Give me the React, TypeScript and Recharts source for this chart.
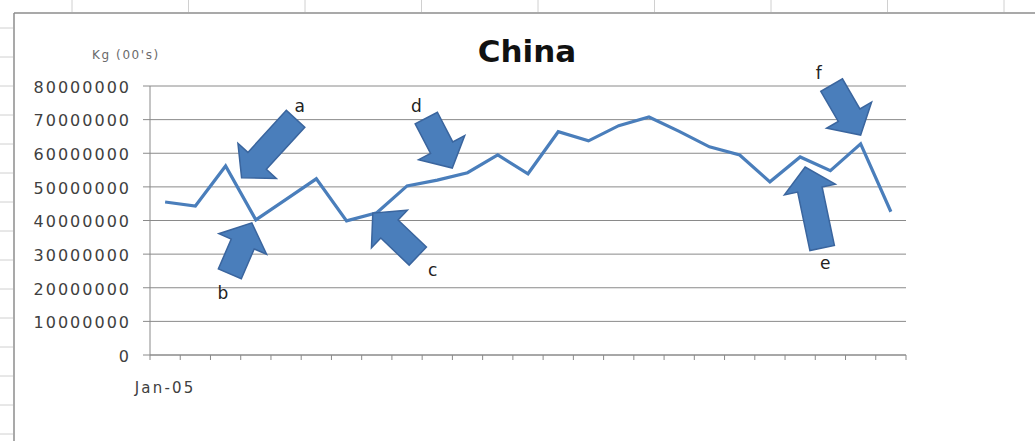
import React from "react";
import { LineChart, Line, XAxis, YAxis, CartesianGrid, ReferenceDot } from "recharts";

// monthly volume, Kg (00's)
const months = [
  "Jan-05", "Feb-05", "Mar-05", "Apr-05", "May-05", "Jun-05", "Jul-05", "Aug-05", "Sep-05", "Oct-05",
  "Nov-05", "Dec-05", "Jan-06", "Feb-06", "Mar-06", "Apr-06", "May-06", "Jun-06", "Jul-06", "Aug-06",
  "Sep-06", "Oct-06", "Nov-06", "Dec-06", "Jan-07",
];
const volume = [
  45500000, 44300000, 56200000, 40200000, 46300000, 52400000, 39900000, 42300000, 50300000, 52000000,
  54200000, 59500000, 53900000, 66400000, 63700000, 68200000, 70800000, 66500000, 61900000, 59500000,
  51500000, 58900000, 54800000, 62800000, 42600000,
];
const yTicks = [0, 10000000, 20000000, 30000000, 40000000, 50000000, 60000000, 70000000, 80000000];

// callouts: tip anchored on a month / value, tail given as a pixel vector from the tip
const callouts = [
  { label: "a", month: "Mar-05", value: 52700000, dx: 16, tail: [54, -59], text: [58, -72] },
  { label: "b", month: "Apr-05", value: 39300000, dx: -4, tail: [-22, 51], text: [-29, 70] },
  { label: "c", month: "Aug-05", value: 42200000, dx: -4, tail: [45, 43], text: [60, 57] },
  { label: "d", month: "Oct-05", value: 55600000, dx: 15, tail: [-26, -50], text: [-36, -62] },
  { label: "e", month: "Oct-06", value: 55900000, dx: 5, tail: [17, 81], text: [20, 96] },
  { label: "f", month: "Dec-06", value: 65400000, dx: 0, tail: [-29, -50], text: [-42, -62] },
];

const data = months.map((m, i) => ({ month: m, value: volume[i] }));

const BAND = 756 / months.length;
const AXIS = "#8a8a8a";
const BLUE = "#4A7EBB";

function MonthTick(props: any) {
  const { x, y, index, payload } = props;
  const h = BAND / 2;
  return (
    <g>
      <line x1={x - h} x2={x - h} y1={y} y2={y + 5} stroke={AXIS} />
      {index === months.length - 1 && <line x1={x + h} x2={x + h} y1={y} y2={y + 5} stroke={AXIS} />}
      {index === 0 && (
        <text x={x} y={y + 38} textAnchor="middle" fill="#404040"
          style={{ fontFamily: "DejaVu Sans", fontSize: 15, letterSpacing: 2.2 }}>
          {payload.value}
        </text>
      )}
    </g>
  );
}

function ValueTick(props: any) {
  const { x, y, payload } = props;
  return (
    <text x={x} y={y + 1} dy="0.36em" textAnchor="end" fill="#404040"
      style={{ fontFamily: "DejaVu Sans", fontSize: 16, letterSpacing: 2.0 }}>
      {String(payload.value)}
    </text>
  );
}

function arrowShape(c: (typeof callouts)[number]) {
  return (p: any) => {
    const tx = p.cx + c.dx;
    const ty = p.cy;
    const sx = tx + c.tail[0];
    const sy = ty + c.tail[1];
    const len = Math.hypot(tx - sx, ty - sy);
    const ux = (tx - sx) / len;
    const uy = (ty - sy) / len;
    const nx = -uy;
    const ny = ux;
    const sw = 12.5, hw = 26, hl = 23;
    const bx = tx - ux * hl;
    const by = ty - uy * hl;
    const pts = [
      [sx + nx * sw, sy + ny * sw],
      [bx + nx * sw, by + ny * sw],
      [bx + nx * hw, by + ny * hw],
      [tx, ty],
      [bx - nx * hw, by - ny * hw],
      [bx - nx * sw, by - ny * sw],
      [sx - nx * sw, sy - ny * sw],
    ];
    return (
      <g>
        <polygon points={pts.map((q) => q.join(",")).join(" ")} fill={BLUE} stroke="#3A659E" strokeWidth={1.5} />
        <text x={tx + c.text[0]} y={ty + c.text[1]} textAnchor="middle" dominantBaseline="central" fill="#222"
          style={{ fontFamily: "DejaVu Sans", fontSize: 17 }}>
          {c.label}
        </text>
      </g>
    );
  };
}

export default function App() {
  const rows = Array.from({ length: 15 }, (_, i) => 28 + i * 29);
  const cols = Array.from({ length: 9 }, (_, i) => 72 + i * 116.5);
  return (
    <div style={{ position: "absolute", left: 0, top: 0, width: 1035, height: 441, background: "#fff", overflow: "hidden" }}>
      <svg width={1035} height={441} style={{ position: "absolute", left: 0, top: 0 }}>
        {cols.map((x) => <line key={x} x1={x} x2={x} y1={0} y2={12} stroke="#d0d0d0" />)}
        {rows.map((y) => <line key={y} x1={0} x2={13} y1={y} y2={y} stroke="#d0d0d0" />)}
        <line x1={14} x2={14} y1={13} y2={441} stroke="#8c8c8c" strokeWidth={1.5} />
        <line x1={14} x2={1035} y1={13} y2={13} stroke="#8c8c8c" strokeWidth={1.5} />
      </svg>
      <div style={{ position: "absolute", left: 0, width: 1054, top: 36, textAlign: "center", fontFamily: "DejaVu Sans",
        fontWeight: "bold", fontSize: 31, lineHeight: "31px", color: "#111" }}>
        China
      </div>
      <div style={{ position: "absolute", left: 92, top: 49, fontFamily: "DejaVu Sans", fontSize: 12, lineHeight: "12px",
        letterSpacing: 1.6, color: "#6a6a6a", whiteSpace: "nowrap" }}>
        Kg (00's)
      </div>
      <div style={{ position: "absolute", left: 0, top: 0 }}>
        <LineChart width={1035} height={441} data={data} margin={{ top: 86, right: 129, bottom: 0, left: 0 }}>
          <CartesianGrid vertical={false} stroke={AXIS} strokeOpacity={1} />
          <XAxis dataKey="month" height={86} interval={0} padding={{ left: BAND / 2, right: BAND / 2 }}
            axisLine={{ stroke: AXIS }} tickLine={false} tickSize={0} tickMargin={0} tick={<MonthTick />} />
          <YAxis width={150} domain={[0, 80000000]} ticks={yTicks} interval={0} axisLine={{ stroke: AXIS }}
            tickLine={{ stroke: AXIS }} tickSize={7} tickMargin={12} tick={<ValueTick />} />
          <Line type="linear" dataKey="value" stroke={BLUE} strokeWidth={3.2} dot={false} activeDot={false}
            isAnimationActive={false} />
          {callouts.map((c) => (
            <ReferenceDot key={c.label} x={c.month} y={c.value} r={0} ifOverflow="visible" shape={arrowShape(c)} />
          ))}
        </LineChart>
      </div>
    </div>
  );
}
